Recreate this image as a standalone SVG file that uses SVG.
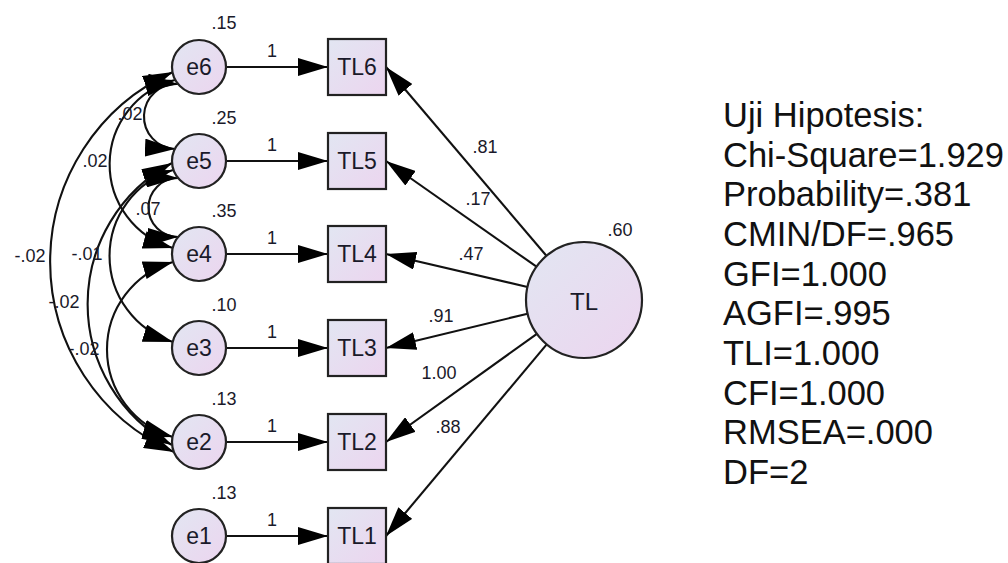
<svg xmlns="http://www.w3.org/2000/svg" width="1008" height="563" viewBox="0 0 1008 563">
<defs>
<style>
.nd{fill:url(#g);stroke:#222;stroke-width:2.2}
.ln{fill:none;stroke:#111;stroke-width:2.1}
.ar{marker-end:url(#ah)}
.cv{marker-start:url(#ah);marker-end:url(#ah)}
.nt{font-family:"Liberation Sans",Arial,sans-serif;font-size:23px;fill:#1a1a2a;text-anchor:middle}
.sl{font-family:"Liberation Sans",Arial,sans-serif;font-size:18px;fill:#1a1a2a;text-anchor:middle}
.fs{font-family:"Liberation Sans",Arial,sans-serif;font-size:34.5px;fill:#111}
</style>
<linearGradient id="g" x1="0" y1="0" x2="1" y2="1">
<stop offset="0" stop-color="#e2e6f2"/>
<stop offset="1" stop-color="#ecd5ef"/>
</linearGradient>
<marker id="ah" markerUnits="userSpaceOnUse" markerWidth="30" markerHeight="18" viewBox="0 0 30 18" refX="30" refY="9" orient="auto-start-reverse">
<path d="M0,0 L30,9 L0,18 z" fill="#000"/>
</marker>
</defs>

<g id="connectors">
<path class="ln ar" d="M226,67 L328,67"/>
<path class="ln ar" d="M226,161 L328,161"/>
<path class="ln ar" d="M226,254 L328,254"/>
<path class="ln ar" d="M226,348 L328,348"/>
<path class="ln ar" d="M226,442 L328,442"/>
<path class="ln ar" d="M226,536 L328,536"/>
<path class="ln ar" d="M546.4,255.8 L386,67"/>
<path class="ln ar" d="M536.5,266.7 L386,161"/>
<path class="ln ar" d="M527.5,286.9 L386,254"/>
<path class="ln ar" d="M527.6,313.7 L386,348"/>
<path class="ln ar" d="M536.9,333.8 L386,442"/>
<path class="ln ar" d="M546.7,344.4 L386,536"/>
<path class="ln cv" d="M178,84 A32 32 0 0 0 175,149"/>
<path class="ln cv" d="M178,178 A29 29 0 0 0 178,237"/>
<path class="ln cv" d="M175,80 A87 87 0 0 0 173,248"/>
<path class="ln cv" d="M173,72 A208 208 0 0 0 174,452"/>
<path class="ln cv" d="M173,170 A90 90 0 0 0 173,342"/>
<path class="ln cv" d="M172,163 A160 160 0 0 0 172,445"/>
<path class="ln cv" d="M173,262 A91 91 0 0 0 173,437"/>
<text class="sl" x="272" y="57">1</text>
<text class="sl" x="272" y="151">1</text>
<text class="sl" x="272" y="244">1</text>
<text class="sl" x="272" y="338">1</text>
<text class="sl" x="272" y="432">1</text>
<text class="sl" x="272" y="526">1</text>
<text class="sl" x="485" y="153">.81</text>
<text class="sl" x="478" y="205">.17</text>
<text class="sl" x="471" y="260">.47</text>
<text class="sl" x="441" y="322">.91</text>
<text class="sl" x="439" y="379">1.00</text>
<text class="sl" x="448" y="433">.88</text>
<text class="sl" x="130" y="120">.02</text>
<text class="sl" x="95" y="167">.02</text>
<text class="sl" x="148" y="215">.07</text>
<text class="sl" x="30" y="262">-.02</text>
<text class="sl" x="87" y="260">-.01</text>
<text class="sl" x="64" y="308">-.02</text>
<text class="sl" x="84" y="355">-.02</text>
</g>

<g id="e6"><circle class="nd" cx="199" cy="67" r="27"/><text class="nt" x="199" y="75">e6</text><text class="sl" x="224" y="29">.15</text></g>
<g id="e5"><circle class="nd" cx="199" cy="161" r="27"/><text class="nt" x="199" y="169">e5</text><text class="sl" x="224" y="124">.25</text></g>
<g id="e4"><circle class="nd" cx="199" cy="254" r="27"/><text class="nt" x="199" y="262">e4</text><text class="sl" x="224" y="217">.35</text></g>
<g id="e3"><circle class="nd" cx="199" cy="348" r="27"/><text class="nt" x="199" y="356">e3</text><text class="sl" x="224" y="311">.10</text></g>
<g id="e2"><circle class="nd" cx="199" cy="442" r="27"/><text class="nt" x="199" y="450">e2</text><text class="sl" x="224" y="405">.13</text></g>
<g id="e1"><circle class="nd" cx="199" cy="536" r="27"/><text class="nt" x="199" y="544">e1</text><text class="sl" x="224" y="499">.13</text></g>

<g id="TL6"><rect class="nd" x="328" y="39" width="58" height="56"/><text class="nt" x="357" y="75">TL6</text></g>
<g id="TL5"><rect class="nd" x="328" y="133" width="58" height="56"/><text class="nt" x="357" y="169">TL5</text></g>
<g id="TL4"><rect class="nd" x="328" y="226" width="58" height="56"/><text class="nt" x="357" y="262">TL4</text></g>
<g id="TL3"><rect class="nd" x="328" y="320" width="58" height="56"/><text class="nt" x="357" y="356">TL3</text></g>
<g id="TL2"><rect class="nd" x="328" y="414" width="58" height="56"/><text class="nt" x="357" y="450">TL2</text></g>
<g id="TL1"><rect class="nd" x="328" y="508" width="58" height="56"/><text class="nt" x="357" y="544">TL1</text></g>

<g id="TL"><circle class="nd" cx="584" cy="300" r="58"/><text class="nt" x="584" y="310" style="font-size:24px">TL</text><text class="sl" x="620" y="236">.60</text></g>

<g id="fit-stats">
<text class="fs" x="723" y="127">Uji Hipotesis:</text>
<text class="fs" x="723" y="167">Chi-Square=1.929</text>
<text class="fs" x="723" y="206">Probability=.381</text>
<text class="fs" x="723" y="246">CMIN/DF=.965</text>
<text class="fs" x="723" y="286">GFI=1.000</text>
<text class="fs" x="723" y="325">AGFI=.995</text>
<text class="fs" x="723" y="365">TLI=1.000</text>
<text class="fs" x="723" y="405">CFI=1.000</text>
<text class="fs" x="723" y="444">RMSEA=.000</text>
<text class="fs" x="723" y="484">DF=2</text>
</g>
</svg>
